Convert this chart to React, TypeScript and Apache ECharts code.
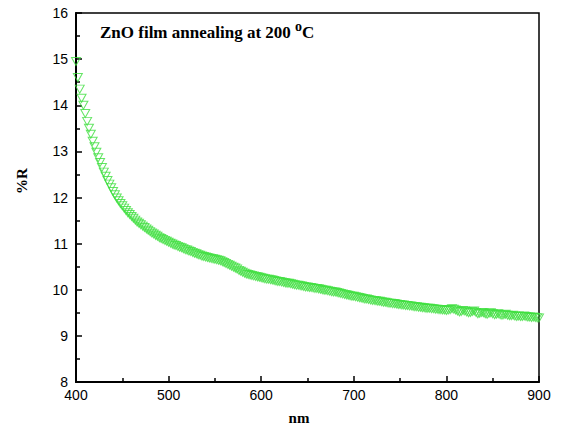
import React, { useEffect, useRef } from "react";
import * as echarts from "echarts";

// sampling grid of the measured spectrum (nm)
const startWavelength = 400;
const wavelengthStep = 2;

// %R, one value every 2 nm from 400 to 900 nm
const reflectance: number[] = [
  14.95, 14.6, 14.35, 14.15, 14.0, 13.82, 13.65, 13.5, 13.37, 13.22, 13.1, 12.98, 12.86, 12.76, 12.65, 12.55,
  12.46, 12.37, 12.29, 12.21, 12.13, 12.06, 11.99, 11.93, 11.87, 11.82, 11.77, 11.72, 11.67, 11.63, 11.59,
  11.55, 11.51, 11.47, 11.44, 11.41, 11.38, 11.35, 11.32, 11.29, 11.26, 11.23, 11.21, 11.18, 11.16, 11.13,
  11.11, 11.09, 11.07, 11.05, 11.03,
  11.01, 10.99, 10.97, 10.96, 10.94, 10.92, 10.91, 10.89, 10.87, 10.86, 10.84, 10.83, 10.81, 10.79, 10.78,
  10.76, 10.75, 10.73, 10.72, 10.71, 10.7, 10.69, 10.68, 10.67, 10.66, 10.65, 10.64, 10.63, 10.61, 10.59,
  10.57, 10.55, 10.53, 10.51, 10.49, 10.47, 10.45, 10.42, 10.4, 10.38, 10.36, 10.34, 10.33, 10.32, 10.31,
  10.3, 10.29, 10.28, 10.27, 10.26,
  10.25, 10.24, 10.23, 10.23, 10.22, 10.21, 10.2, 10.19, 10.18, 10.18, 10.17, 10.16, 10.15, 10.14, 10.14,
  10.13, 10.12, 10.11, 10.1, 10.1, 10.09, 10.08, 10.07, 10.06, 10.06, 10.05, 10.05, 10.04, 10.03, 10.03,
  10.02, 10.01, 10.0, 9.99, 9.99, 9.98, 9.97, 9.96, 9.95, 9.95, 9.94, 9.93, 9.92, 9.91, 9.9,
  9.89, 9.88, 9.87, 9.86, 9.86,
  9.85, 9.84, 9.83, 9.82, 9.81, 9.8, 9.8, 9.79, 9.78, 9.77, 9.77, 9.76, 9.75, 9.75, 9.74,
  9.73, 9.73, 9.72, 9.71, 9.71, 9.7, 9.7, 9.69, 9.68, 9.68, 9.67, 9.67, 9.66, 9.66, 9.65,
  9.65, 9.64, 9.63, 9.63, 9.62, 9.62, 9.61, 9.61, 9.6, 9.6, 9.6, 9.59, 9.59, 9.58, 9.58,
  9.57, 9.57, 9.56, 9.56, 9.55,
  9.56, 9.57, 9.59, 9.58, 9.56, 9.54, 9.52, 9.53, 9.55, 9.54, 9.52, 9.5, 9.51, 9.53, 9.54,
  9.51, 9.48, 9.49, 9.51, 9.5, 9.48, 9.47, 9.49, 9.5, 9.48, 9.46, 9.47, 9.48, 9.46, 9.45,
  9.46, 9.47, 9.45, 9.44, 9.44, 9.45, 9.43, 9.42, 9.43, 9.42, 9.42, 9.43, 9.42, 9.41, 9.41,
  9.4, 9.41, 9.4, 9.39, 9.39,
];

const xTicks = { min: 400, max: 900, interval: 100 };
const yTicks = { min: 8, max: 16, interval: 1 };

const titleText = "ZnO film annealing at 200 ";
const titleSup = "o";
const titleUnit = "C";
const xAxisName = "nm";
const yAxisName = "%R";

export default function App() {
  const ref = useRef<HTMLDivElement>(null);
  useEffect(() => {
    if (!ref.current) return;
    const chart = echarts.init(ref.current, undefined, { renderer: "svg" });
    const data = reflectance.map((v, i) => [startWavelength + i * wavelengthStep, v]);
    const axisFont = { color: "#000", fontFamily: "Liberation Sans", fontSize: 14 };
    chart.setOption({
      animation: false,
      backgroundColor: "#fff",
      grid: {
        left: 76,
        top: 13,
        right: 22,
        bottom: 54,
        show: true,
        borderColor: "#000",
        borderWidth: 1.5,
        backgroundColor: "transparent",
      },
      xAxis: {
        type: "value",
        ...xTicks,
        axisLine: { onZero: false, lineStyle: { color: "#000", width: 2 } },
        axisTick: { inside: true, length: 6, lineStyle: { color: "#000", width: 1.5 } },
        minorTick: { show: true, splitNumber: 2, length: 4, lineStyle: { color: "#000", width: 1.5 } },
        splitLine: { show: false },
        axisLabel: { ...axisFont, margin: 6 },
      },
      yAxis: {
        type: "value",
        ...yTicks,
        axisLine: { onZero: false, lineStyle: { color: "#000", width: 2 } },
        axisTick: { inside: true, length: 6, lineStyle: { color: "#000", width: 1.5 } },
        minorTick: { show: true, splitNumber: 2, length: 4, lineStyle: { color: "#000", width: 1.5 } },
        splitLine: { show: false },
        axisLabel: { ...axisFont, margin: 8 },
      },
      series: [
        {
          type: "scatter",
          data,
          symbol: "triangle",
          symbolRotate: 180,
          symbolSize: [9, 8],
          itemStyle: { color: "rgba(0,0,0,0)", borderColor: "#3ede3e", borderWidth: 1 },
        },
      ],
      graphic: [
        {
          type: "text",
          left: 100,
          top: 19,
          style: {
            text: titleText + "{sup|" + titleSup + "}" + titleUnit,
            font: "bold 17px 'Liberation Serif'",
            fill: "#000",
            rich: {
              sup: { font: "bold 14px 'Liberation Serif'", fill: "#000", verticalAlign: "top", padding: [0, 0, 12, 0] },
            },
          },
        },
        {
          type: "text",
          x: 22,
          y: 181,
          rotation: Math.PI / 2,
          style: {
            text: yAxisName,
            font: "bold 15px 'Liberation Serif'",
            fill: "#000",
            align: "center",
            verticalAlign: "middle",
          },
        },
        {
          type: "text",
          x: 299,
          y: 418,
          style: {
            text: xAxisName,
            font: "bold 15px 'Liberation Serif'",
            fill: "#000",
            align: "center",
            verticalAlign: "middle",
          },
        },
      ],
    });
    return () => chart.dispose();
  }, []);
  return <div ref={ref} style={{ width: 561, height: 436, position: "absolute", left: 0, top: 0 }} />;
}
